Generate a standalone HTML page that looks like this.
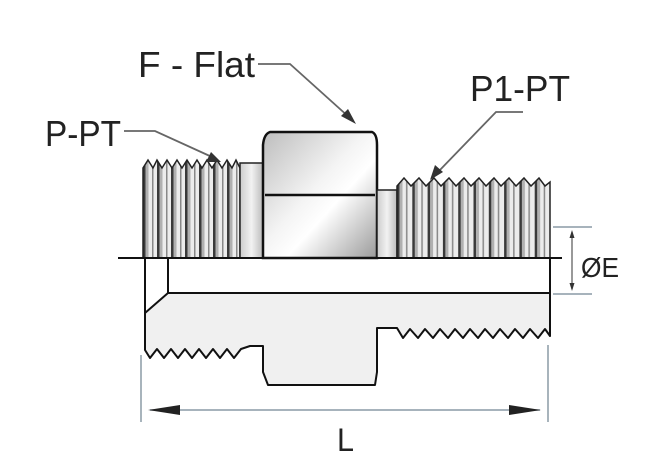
<!DOCTYPE html>
<html><head><meta charset="utf-8"><style>
html,body{margin:0;padding:0;background:#fff;width:651px;height:471px;overflow:hidden}
svg{display:block}
text{font-family:"Liberation Sans",sans-serif;fill:#222}
</style></head><body>
<svg width="651" height="471" viewBox="0 0 651 471" xmlns="http://www.w3.org/2000/svg">
<defs>
<linearGradient id="hex" x1="0" y1="0" x2="1" y2="1">
<stop offset="0" stop-color="#bdbdbd"/><stop offset="0.45" stop-color="#f4f4f4"/><stop offset="0.6" stop-color="#fff"/><stop offset="1" stop-color="#9a9a9a"/>
</linearGradient>
<linearGradient id="neck" x1="0" y1="0" x2="1" y2="0">
<stop offset="0" stop-color="#ccc"/><stop offset="0.5" stop-color="#f2f2f2"/><stop offset="1" stop-color="#bbb"/>
</linearGradient>
<pattern id="thr" x="143" y="0" width="14" height="10" patternUnits="userSpaceOnUse">
<rect width="14" height="10" fill="#ececec"/>
<rect x="0" width="2.5" height="10" fill="#3a3a3a"/>
<rect x="2.5" width="3" height="10" fill="#b0b0b0"/>
<rect x="9" width="1.5" height="10" fill="#888"/>
</pattern>
<pattern id="thr2" x="397" y="0" width="15.3" height="10" patternUnits="userSpaceOnUse">
<rect width="15.3" height="10" fill="#ececec"/>
<rect x="0" width="2.5" height="10" fill="#3a3a3a"/>
<rect x="2.5" width="3" height="10" fill="#b0b0b0"/>
<rect x="9" width="1.5" height="10" fill="#888"/>
</pattern>
</defs>

<path d="M145 258 L145 350 L150 358 L157 349 L164 358 L171 349 L178 358 L185 349 L192 358 L199 349 L206 358 L213 349 L220 358 L227 349 L234 358 L241 349 L250 346 L263 346 L263 372 L268 385 L375 385 L377 372 L377 328 L397 328 L403 338 L410 329 L418 338 L425 329 L433 338 L440 329 L448 338 L455 329 L463 338 L470 329 L478 338 L485 329 L493 338 L500 329 L508 338 L515 329 L523 338 L530 329 L538 338 L545 329 L550 336 L550 293 L168 293 L145 313 Z" fill="#f0f0f0" stroke="#111" stroke-width="2" stroke-linejoin="round"/>
<rect x="168" y="258" width="382" height="35" fill="#fff" stroke="#111" stroke-width="2"/>
<line x1="145" y1="258" x2="145" y2="313" stroke="#111" stroke-width="2"/>

<path d="M143 258 L143 168 L148 160 L153 168 L157 160 L162 168 L167 160 L172 168 L177 160 L182 168 L187 160 L192 168 L197 160 L202 168 L207 160 L212 168 L217 160 L222 168 L227 160 L232 168 L236 160 L240 168 L240 258 Z" fill="url(#thr)" stroke="#222" stroke-width="1.5"/>
<rect x="240" y="163" width="23" height="95" fill="url(#neck)" stroke="#222" stroke-width="1.5"/>
<path d="M263 258 L263 145 Q264 134 270 132 L372 132 Q377 134 377 145 L377 258 Z" fill="url(#hex)" stroke="#111" stroke-width="2.5"/>
<line x1="265" y1="195" x2="375" y2="195" stroke="#111" stroke-width="2.5"/>
<rect x="377" y="190" width="20" height="68" fill="url(#neck)" stroke="#222" stroke-width="1.5"/>
<path d="M397 258 L397 186 L404 178 L411 186 L419 178 L426 186 L434 178 L441 186 L449 178 L456 186 L464 178 L471 186 L479 178 L486 186 L494 178 L501 186 L509 178 L516 186 L524 178 L531 186 L539 178 L545 186 L550 182 L550 258 Z" fill="url(#thr2)" stroke="#222" stroke-width="1.5"/>

<line x1="118" y1="258" x2="562" y2="258" stroke="#111" stroke-width="2"/>

<line x1="553" y1="227" x2="592" y2="227" stroke="#8a9aa5" stroke-width="1.5"/>
<line x1="553" y1="294" x2="592" y2="294" stroke="#8a9aa5" stroke-width="1.5"/>
<line x1="572" y1="232" x2="572" y2="289" stroke="#555" stroke-width="1.2"/>
<path d="M572 230 L569.5 238 L574.5 238 Z M572 291 L569.5 283 L574.5 283 Z" fill="#333"/>
<text x="581" y="277" font-size="28" textLength="38" lengthAdjust="spacingAndGlyphs">ØE</text>

<line x1="141" y1="355" x2="141" y2="422" stroke="#8a9aa5" stroke-width="1.5"/>
<line x1="548" y1="345" x2="548" y2="422" stroke="#8a9aa5" stroke-width="1.5"/>
<line x1="150" y1="410" x2="540" y2="410" stroke="#8a9aa5" stroke-width="1.5"/>
<path d="M148 410 L180 405 L180 415 Z M541 410 L509 405 L509 415 Z" fill="#222"/>
<text x="337" y="451" font-size="32" textLength="17" lengthAdjust="spacingAndGlyphs">L</text>

<text x="138" y="77" font-size="36" textLength="117" lengthAdjust="spacingAndGlyphs">F - Flat</text>
<polyline points="258,64 290,64 350,118" fill="none" stroke="#666" stroke-width="1.8"/>
<path d="M356 124 L341 116 L348 109 Z" fill="#333"/>
<text x="470" y="101" font-size="36" textLength="100" lengthAdjust="spacingAndGlyphs">P1-PT</text>
<polyline points="523,112 496,112 438,172" fill="none" stroke="#666" stroke-width="1.8"/>
<path d="M430 180 L435 165 L443 172 Z" fill="#333"/>
<text x="45" y="146" font-size="36" textLength="76" lengthAdjust="spacingAndGlyphs">P-PT</text>
<polyline points="124,131 155,131 212,157" fill="none" stroke="#666" stroke-width="1.8"/>
<path d="M221 162 L206 162 L211 152 Z" fill="#333"/>
</svg>
</body></html>
